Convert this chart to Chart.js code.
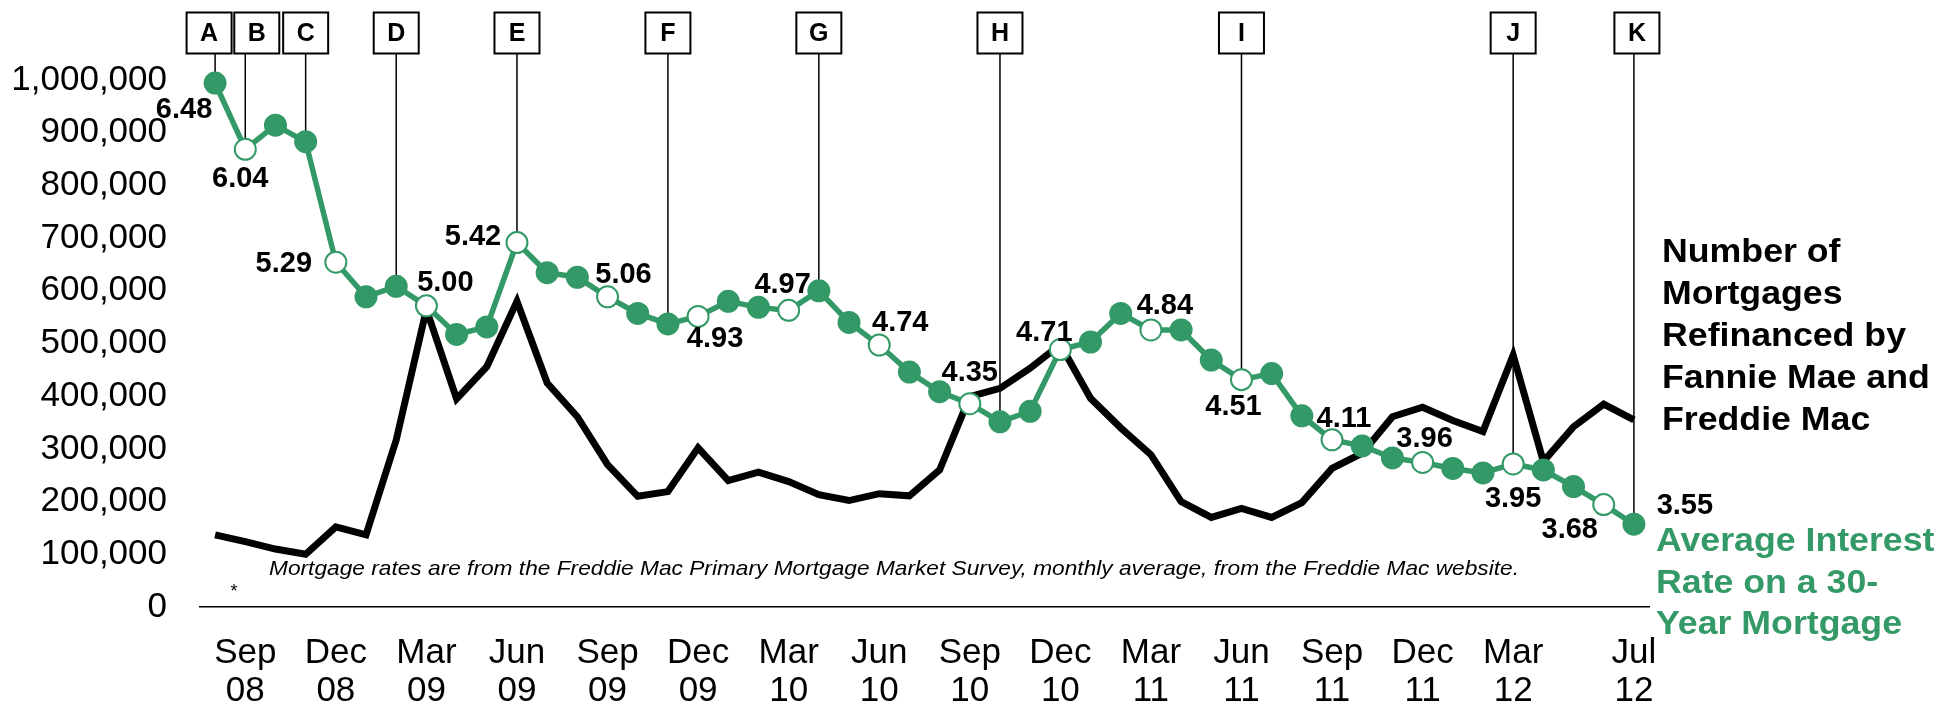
<!DOCTYPE html>
<html>
<head>
<meta charset="utf-8">
<title>Mortgages refinanced and 30-year mortgage rate</title>
<script src="https://cdn.jsdelivr.net/npm/chart.js@4.4.1/dist/chart.umd.min.js"></script>
<style>
  html, body { margin: 0; padding: 0; background: #fff; }
  #wrap { width: 1942px; height: 708px; position: relative; }
</style>
</head>
<body>
<div id="wrap"><canvas id="refiChart"></canvas></div>
<script>
// Monthly categories, Aug 08 to Jul 12
const months = [
  'Aug 08', 'Sep 08', 'Oct 08', 'Nov 08', 'Dec 08',
  'Jan 09', 'Feb 09', 'Mar 09', 'Apr 09', 'May 09', 'Jun 09', 'Jul 09', 'Aug 09', 'Sep 09', 'Oct 09', 'Nov 09', 'Dec 09',
  'Jan 10', 'Feb 10', 'Mar 10', 'Apr 10', 'May 10', 'Jun 10', 'Jul 10', 'Aug 10', 'Sep 10', 'Oct 10', 'Nov 10', 'Dec 10',
  'Jan 11', 'Feb 11', 'Mar 11', 'Apr 11', 'May 11', 'Jun 11', 'Jul 11', 'Aug 11', 'Sep 11', 'Oct 11', 'Nov 11', 'Dec 11',
  'Jan 12', 'Feb 12', 'Mar 12', 'Apr 12', 'May 12', 'Jun 12', 'Jul 12'
];

// Months that get a tick label
const shownTicks = [1, 4, 7, 10, 13, 16, 19, 22, 25, 28, 31, 34, 37, 40, 43, 47];

// Number of mortgages refinanced by Fannie Mae and Freddie Mac
const refinanced = [
  137000, 124000, 110000, 100000, 152000,
  137000, 317000, 565000, 395000, 456000, 580000, 425000, 361000, 270000, 210000, 219000, 302000,
  240000, 256000, 238000, 213000, 202000, 215000, 211000, 260000, 399000, 415000, 453000, 498000,
  396000, 340000, 289000, 200000, 170000, 187000, 170000, 198000, 263000, 292000, 361000, 379000,
  354000, 333000, 478000, 276000, 342000, 385000, 355000
];

// Average 30-year mortgage rate (%)
const rates = [
  6.48, 6.04, 6.20, 6.09, 5.29,
  5.06, 5.13, 5.00, 4.81, 4.86, 5.42, 5.22, 5.19, 5.06, 4.95, 4.88, 4.93,
  5.03, 4.99, 4.97, 5.10, 4.89, 4.74, 4.56, 4.43, 4.35, 4.23, 4.30, 4.71,
  4.76, 4.95, 4.84, 4.84, 4.64, 4.51, 4.55, 4.27, 4.11, 4.07, 3.99, 3.96,
  3.92, 3.89, 3.95, 3.91, 3.80, 3.68, 3.55
];

// Quarterly points drawn as open circles, and points that carry a value label
const openPoints = [1, 4, 7, 10, 13, 16, 19, 22, 25, 28, 31, 34, 37, 40, 43, 46];
const labeledPoints = [0, 1, 4, 7, 10, 13, 16, 19, 22, 25, 28, 31, 34, 37, 40, 43, 46, 47];

// Lettered call-outs and the month each one points at
const calloutLetters = ['A', 'B', 'C', 'D', 'E', 'F', 'G', 'H', 'I', 'J', 'K'];
const calloutMonths = [0, 1, 3, 6, 10, 15, 20, 26, 34, 43, 47];

const yTicks = [0, 100000, 200000, 300000, 400000, 500000, 600000, 700000, 800000, 900000, 1000000];

const legendBlack = ['Number of', 'Mortgages', 'Refinanced by', 'Fannie Mae and', 'Freddie Mac'];
const legendGreen = ['Average Interest', 'Rate on a 30-', 'Year Mortgage'];
const footnote = 'Mortgage rates are from the Freddie Mac Primary Mortgage Market Survey, monthly average, from the Freddie Mac website.';

// ---- styling / placement ----
const GREEN = '#339966';
const FONT = "'Liberation Sans', Arial, Helvetica, sans-serif";
const box = { top: 12.5, w: 45, h: 41 };
const boxShift = { A: -6, B: 11.5, K: 3 };
// value label offsets from the point centre [dx, dy]
const labelOffset = {
  0: [-31, 27], 1: [-5, 30], 4: [-52, 2], 7: [19, -23], 10: [-44, -6], 13: [16, -22],
  16: [17, 23], 19: [-6, -25], 22: [21, -22], 25: [0, -31], 28: [-16, -17], 31: [14, -24],
  34: [-8, 27], 37: [12, -21], 40: [2, -23], 43: [0, 35], 46: [-34, 25], 47: [51, -18]
};

Chart.defaults.font.family = FONT;
Chart.defaults.color = '#000';

function stretchText(ctx, text, x, y, sx) {
  ctx.save();
  ctx.translate(x, y);
  ctx.scale(sx, 1);
  ctx.fillText(text, 0, 0);
  ctx.restore();
}

const overlayPlugin = {
  id: 'overlay',
  beforeDatasetsDraw(chart) {
    const { ctx } = chart;
    const xs = chart.scales.x;
    const rs = chart.scales.yRate;
    ctx.save();
    calloutLetters.forEach((letter, k) => {
      const i = calloutMonths[k];
      const px = xs.getPixelForValue(i);
      const py = rs.getPixelForValue(rates[i]);
      const cx = px + (boxShift[letter] || 0);
      ctx.strokeStyle = '#000';
      ctx.lineWidth = 1.5;
      ctx.beginPath();
      ctx.moveTo(px, box.top + box.h);
      ctx.lineTo(px, py);
      ctx.stroke();
      ctx.fillStyle = '#fff';
      ctx.fillRect(cx - box.w / 2, box.top, box.w, box.h);
      ctx.lineWidth = 2;
      ctx.strokeRect(cx - box.w / 2, box.top, box.w, box.h);
      ctx.fillStyle = '#000';
      ctx.font = 'bold 25px ' + FONT;
      ctx.textAlign = 'center';
      ctx.textBaseline = 'middle';
      ctx.fillText(letter, cx, box.top + box.h / 2 + 1);
    });
    ctx.restore();
  },
  afterDatasetsDraw(chart) {
    const { ctx, chartArea } = chart;
    const xs = chart.scales.x;
    const rs = chart.scales.yRate;
    ctx.save();

    // rate value labels
    ctx.font = 'bold 29px ' + FONT;
    ctx.fillStyle = '#000';
    ctx.textAlign = 'center';
    ctx.textBaseline = 'middle';
    labeledPoints.forEach(i => {
      const off = labelOffset[i] || [0, -25];
      ctx.fillText(rates[i].toFixed(2), xs.getPixelForValue(i) + off[0], rs.getPixelForValue(rates[i]) + off[1]);
    });

    // series names on the right
    ctx.textAlign = 'left';
    ctx.textBaseline = 'alphabetic';
    ctx.font = 'bold 34px ' + FONT;
    legendBlack.forEach((line, k) => {
      stretchText(ctx, line, chartArea.right + 13, 262 + k * 42, 1.05);
    });
    ctx.fillStyle = GREEN;
    legendGreen.forEach((line, k) => {
      stretchText(ctx, line, chartArea.right + 7, 551 + k * 41.5, 1.05);
    });

    // source note
    ctx.fillStyle = '#000';
    ctx.font = 'italic 21px ' + FONT;
    ctx.textBaseline = 'middle';
    const w = ctx.measureText(footnote).width;
    stretchText(ctx, footnote, 269, 569, 1250 / w);
    ctx.font = '18px ' + FONT;
    ctx.textAlign = 'center';
    ctx.fillText('*', 234, 592);

    ctx.restore();
  }
};

const ctxRefi = document.getElementById('refiChart').getContext('2d');
const refiChart = new Chart(ctxRefi, {
  type: 'line',
  data: {
    labels: months,
    datasets: [{
      label: 'Average Interest Rate on a 30-Year Mortgage',
      data: rates,
      yAxisID: 'yRate',
      borderColor: GREEN,
      borderWidth: 5.5,
      pointRadius: 10.5,
      pointHoverRadius: 10.5,
      pointBorderWidth: 2,
      pointBorderColor: GREEN,
      pointBackgroundColor: rates.map((r, i) => openPoints.includes(i) ? '#fff' : GREEN),
      tension: 0,
      clip: false
    }, {
      label: 'Number of Mortgages Refinanced by Fannie Mae and Freddie Mac',
      data: refinanced,
      yAxisID: 'y',
      borderColor: '#000',
      borderWidth: 7,
      borderJoinStyle: 'miter',
      borderCapStyle: 'butt',
      pointRadius: 0,
      pointHoverRadius: 0,
      tension: 0,
      clip: false
    }]
  },
  options: {
    responsive: true,
    maintainAspectRatio: false,
    animation: false,
    events: [],
    layout: { padding: { top: 80, right: 293, bottom: 0, left: 0 } },
    plugins: {
      legend: { display: false },
      tooltip: { enabled: false }
    },
    scales: {
      x: {
        type: 'category',
        offset: true,
        grid: { display: false, drawTicks: false },
        border: { display: true, color: '#000', width: 1.5 },
        ticks: {
          autoSkip: false,
          maxRotation: 0,
          minRotation: 0,
          padding: 27,
          color: '#000',
          font: { size: 35, lineHeight: 1.1 },
          callback: (v, i) => shownTicks.includes(i) ? months[i].split(' ') : ''
        },
        afterFit: s => { s.height = 101; }
      },
      y: {
        position: 'left',
        min: 0,
        max: 1000000,
        afterBuildTicks: s => { s.ticks = yTicks.map(v => ({ value: v })); },
        grid: { display: false, drawTicks: false },
        border: { display: false },
        ticks: {
          padding: 33,
          color: '#000',
          font: { size: 35 },
          callback: v => v.toLocaleString('en-US')
        },
        afterFit: s => { s.width = 200; }
      },
      yRate: {
        type: 'linear',
        axis: 'y',
        position: 'right',
        display: false,
        min: 3,
        max: 6.5
      }
    }
  },
  plugins: [overlayPlugin]
});
</script>
</body>
</html>
